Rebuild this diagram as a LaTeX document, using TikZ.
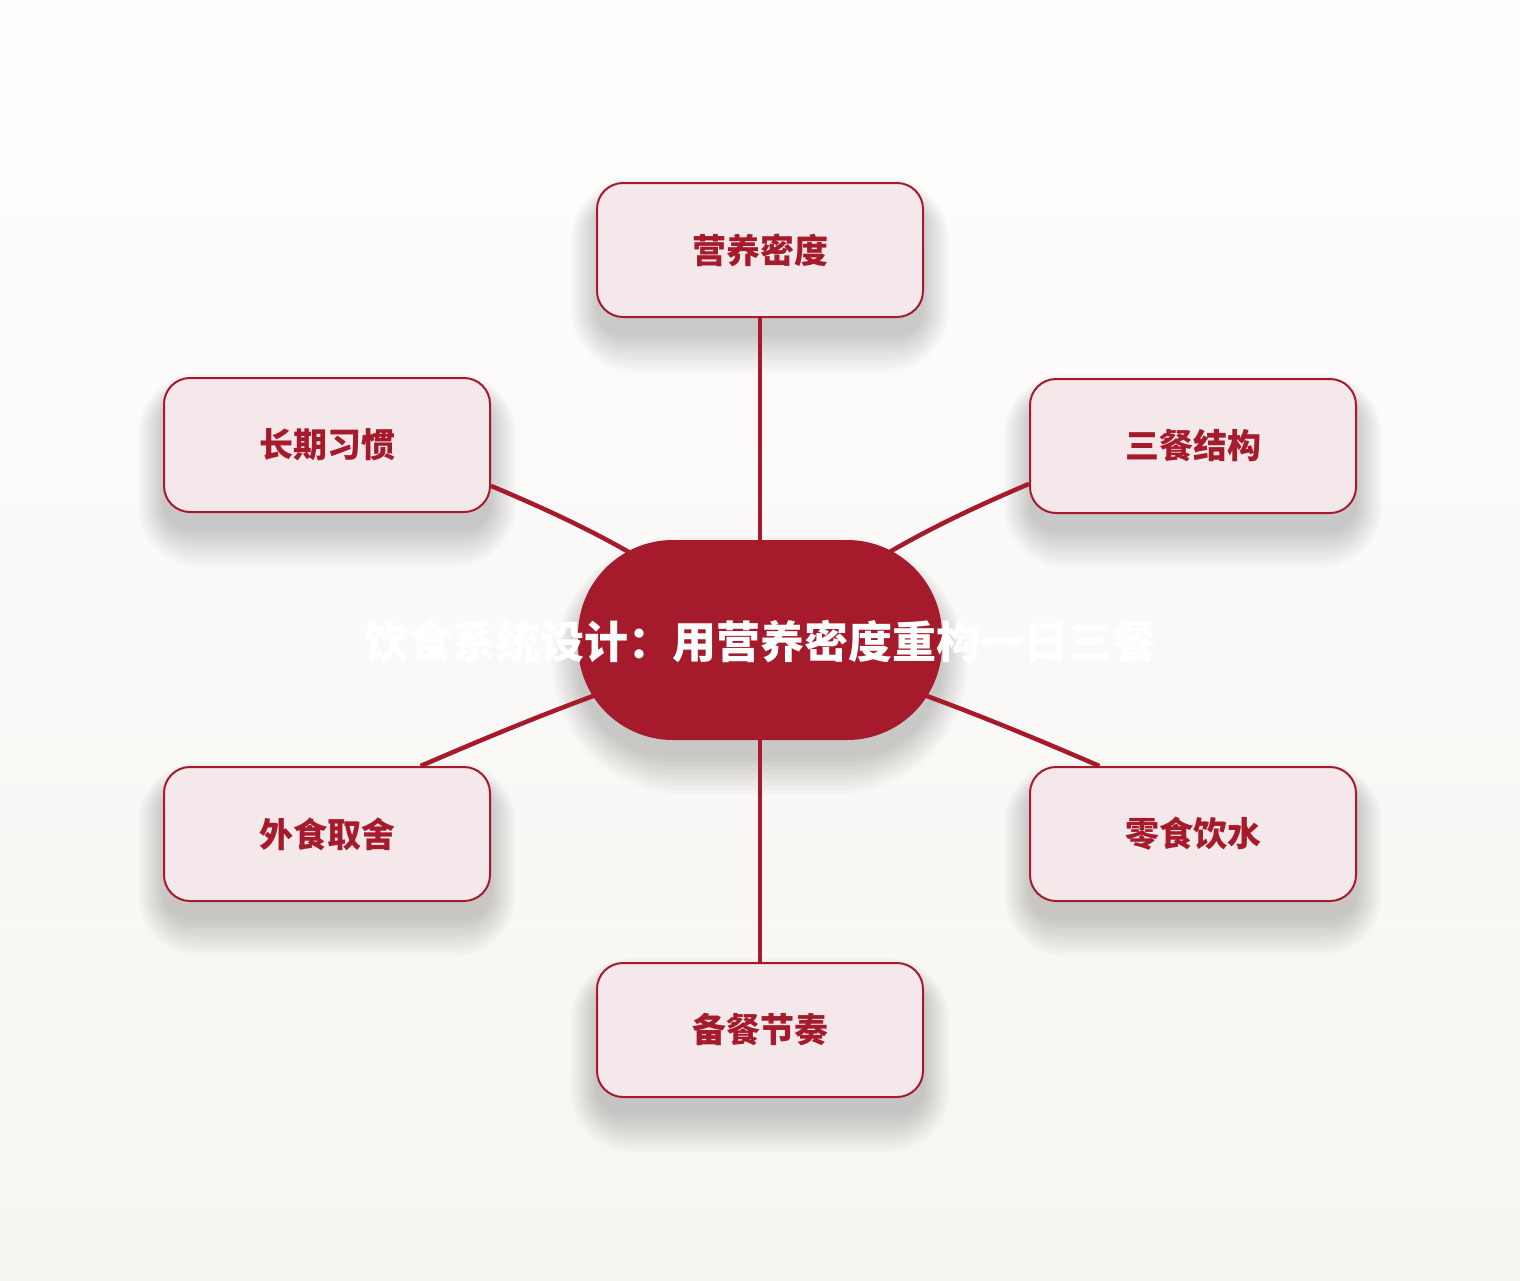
\documentclass[tikz,border=0pt]{standalone}
\usepackage{fontspec}
\setmainfont{Noto Sans CJK SC}
\definecolor{dietred}{HTML}{A51B2B}
\definecolor{dietpink}{HTML}{F5E8EB}
\definecolor{papertop}{HTML}{FEFEFE}
\definecolor{paperbot}{HTML}{F7F5F1}
\pgfdeclarelayer{paper}
\pgfdeclarelayer{haze}
\pgfdeclarelayer{back}
\pgfsetlayers{paper,haze,back,main}
\tikzset{
topic/.style={
	draw=dietred, line width=2pt, fill=dietpink, rounded corners=26pt,
	minimum width=326pt, minimum height=134pt, text=dietred,
	font=\fontsize{34}{40}\selectfont\bfseries},
hub/.style={
	fill=dietred, rounded corners=95pt, minimum width=364pt,
	minimum height=200pt},
spoke/.style={draw=dietred, line width=4.5pt},
haze/.style={fill=black, opacity=0.018}
}
% soft shadow under a node: name, corner radius
\newcommand{\softshadow}[2]{%
	\foreach \g in {0,4,...,36}{
		\fill[haze, rounded corners={#2+\g pt}]
			([xshift={-0.7*\g pt}, yshift={-18pt-\g pt}]#1.south west) rectangle
			([xshift={0.7*\g pt}, yshift={-18pt+0.6*\g pt}]#1.north east);
	}%
}

\begin{document}
\begin{tikzpicture}[x=1pt, y=1pt,
	headline/.style={text=white, font=\fontsize{44}{50}\selectfont\bfseries}]
	\begin{pgfonlayer}{paper}
		\shade[top color=papertop, bottom color=paperbot] (0,0) rectangle (1520,-1280);
	\end{pgfonlayer}
	\useasboundingbox (0,0) rectangle (1520,-1280);
	\node[hub] (core) at (760,-640) {};
	\node[topic] (density) at (760,-250) {营养密度};
	\node[topic] (meal) at (1193,-446) {三餐结构};
	\node[topic] (snack) at (1193,-834) {零食饮水};
	\node[topic] (prep) at (760,-1030) {备餐节奏};
	\node[topic] (dine) at (327,-834) {外食取舍};
	\node[topic] (habit) at (327,-445) {长期习惯};
	\node[headline] (title) at ([yshift=-2pt]core.center) {饮食系统设计：用营养密度重构一日三餐};
	\begin{pgfonlayer}{haze}
		\softshadow{core}{95}
		\foreach \n in {density,meal,snack,prep,dine,habit}{
			\softshadow{\n}{26}
		}
	\end{pgfonlayer}
	% spokes sit under the boxes
	\begin{pgfonlayer}{back}
		\draw[spoke] (core.center) -- (density.south);
		\draw[spoke] (core.center) to[bend left=7] (meal.193);
		\draw[spoke] (core.center) to[bend left=3] (snack.144);
		\draw[spoke] (core.center) -- (prep.north);
		\draw[spoke] (core.center) to[bend right=3] (dine.36);
		\draw[spoke] (core.center) to[bend right=7] (habit.-14);
	\end{pgfonlayer}
\end{tikzpicture}
\end{document}
